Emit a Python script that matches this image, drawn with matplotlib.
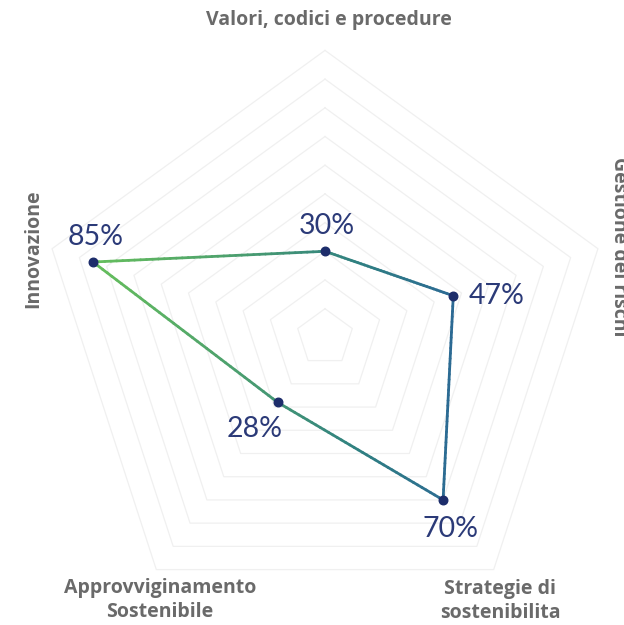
import numpy as np
import matplotlib.pyplot as plt
from matplotlib.collections import LineCollection
from matplotlib.colors import LinearSegmentedColormap

# data
categories = ['Valori, codici e procedure', 'Gestione dei rischi', 'Strategie di\nsostenibilita',
              'Approvviginamento\nSostenibile', 'Innovazione']
values = [30, 47, 70, 28, 85]
labels = ['30%', '47%', '70%', '28%', '85%']
grid_levels = [10, 20, 30, 40, 50, 60, 70, 80, 90, 100]

# geometry (center 325,337 px, radius 287 px in a 624x625 figure)
R = 287.0
cx, cy = 325.0, 337.4
W, H = 624, 625

fig = plt.figure(figsize=(W / 100, H / 100), dpi=100)
ax = fig.add_axes([0, 0, 1, 1])
ax.set_xlim(-cx / R, (W - cx) / R)
ax.set_ylim(-(H - cy) / R, cy / R)
ax.axis('off')

n = len(categories)
angles = np.pi / 2 - np.arange(n) * 2 * np.pi / n

# pentagon grid
for lev in grid_levels:
    r = lev / 100
    gx = np.append(r * np.cos(angles), r * np.cos(angles[0]))
    gy = np.append(r * np.sin(angles), r * np.sin(angles[0]))
    ax.plot(gx, gy, color='#f0f0f0', lw=0.9, zorder=1)

# data line with gradient along x
r = np.array(values) / 100
px = r * np.cos(angles)
py = r * np.sin(angles)
lx = np.append(px, px[0])
ly = np.append(py, py[0])

cmap = LinearSegmentedColormap.from_list(
    'g', [(0, '#66bf5c'), (0.35, '#4fa36c'), (0.75, '#2f7f82'), (1, '#2c6a94')])
segs = []
cols = []
for i in range(n):
    t = np.linspace(0, 1, 40)
    xs = lx[i] + (lx[i + 1] - lx[i]) * t
    ys = ly[i] + (ly[i + 1] - ly[i]) * t
    for j in range(len(t) - 1):
        segs.append([(xs[j], ys[j]), (xs[j + 1], ys[j + 1])])
        cols.append((xs[j] + xs[j + 1]) / 2)
cols = np.array(cols)
norm = plt.Normalize(px.min(), px.max())
lc = LineCollection(segs, colors=cmap(norm(cols)), linewidths=2.0, capstyle='round', zorder=2)
ax.add_collection(lc)

ax.scatter(px, py, s=38, color='#1d2d6b', zorder=3)

# value labels
offsets = [(1, 18), (31, 0), (5, -21), (-17, -19), (2, 18)]
for x, y, lab, (dx, dy) in zip(px, py, labels, offsets):
    ax.annotate(lab, (x, y), xytext=(dx, dy), textcoords='offset points',
                ha='center', va='center', fontsize=20.5, color='#2b3a78',
                family='Lato', zorder=4)

# category labels
lab_kw = dict(fontsize=14, fontweight='bold', color='#6a6a6a', family='Open Sans',
              ha='center', va='center', linespacing=1.3)
def px2d(x, y):
    return (x - cx) / R, (cy - y) / R

ax.text(*px2d(329, 20), categories[0], **lab_kw)
ax.text(*px2d(619, 247), categories[1], rotation=-90, **lab_kw)
ax.text(*px2d(500, 601), categories[2], **lab_kw)
ax.text(*px2d(160, 600), categories[3], **lab_kw)
ax.text(*px2d(33, 249), categories[4], rotation=90, **lab_kw)

fig.savefig('out.png', dpi=100)
